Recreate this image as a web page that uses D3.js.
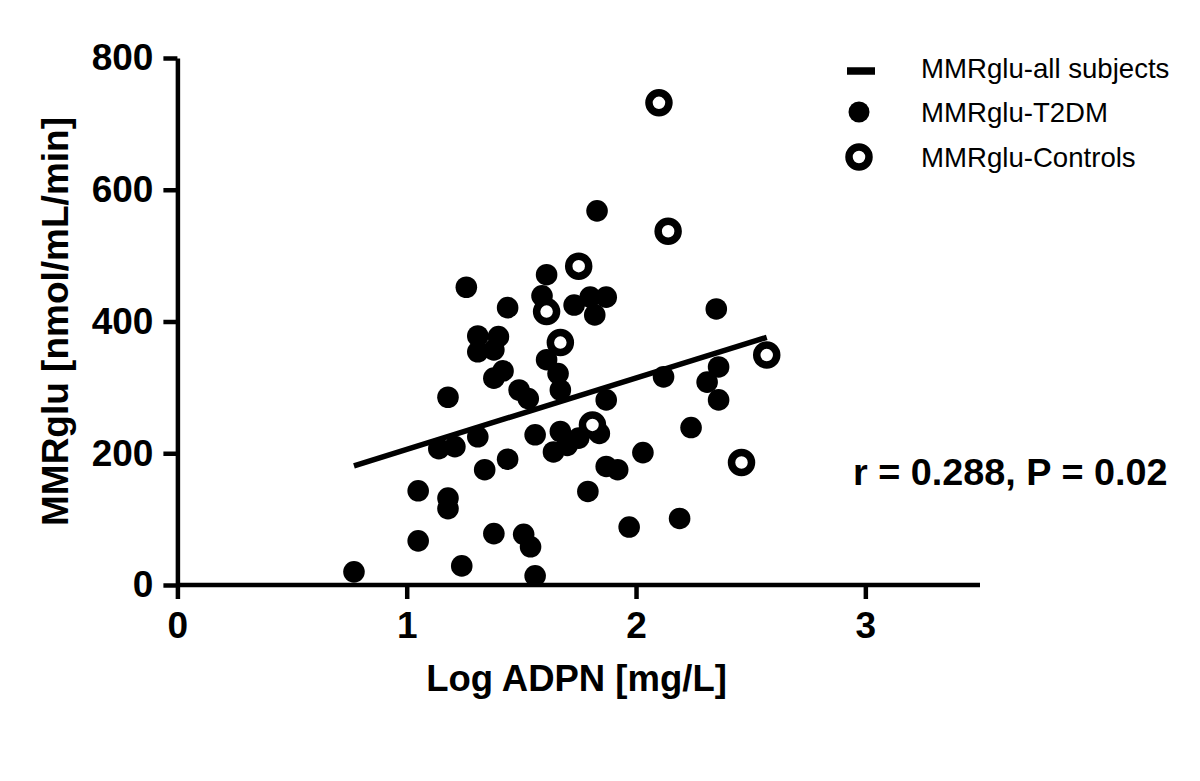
<!DOCTYPE html>
<html>
<head>
<meta charset="utf-8">
<script src="https://cdn.jsdelivr.net/npm/d3@7"></script>
<style>
  html, body { margin: 0; padding: 0; background: #fff; }
  svg { display: block; }
  text { font-family: "Liberation Sans", Arial, sans-serif; fill: #000; }
</style>
</head>
<body>
<svg id="chart" width="1200" height="781"></svg>
<script>
// ---- data ----
const t2dmX = [0.77, 1.05, 1.05, 1.18, 1.14, 1.21, 1.18, 1.18, 1.24, 1.26,
               1.31, 1.40, 1.31, 1.38, 1.42, 1.38, 1.44, 1.31, 1.34, 1.44,
               1.38, 1.49, 1.53, 1.51, 1.54, 1.56, 1.56, 1.61, 1.59, 1.61,
               1.66, 1.67, 1.64, 1.67, 1.70, 1.75, 1.73, 1.80, 1.87, 1.82,
               1.83, 1.84, 1.87, 1.79, 1.87, 1.92, 1.97, 2.03, 2.12, 2.19,
               2.24, 2.31, 2.35, 2.36, 2.36];
const t2dmY = [20, 143, 67, 285, 207, 210, 132, 116, 29, 452,
               378, 377, 354, 357, 325, 314, 421, 225, 175, 191,
               78, 296, 283, 77, 58, 14, 228, 471, 439, 342,
               321, 296, 202, 233, 212, 223, 425, 437, 437, 410,
               568, 230, 281, 142, 180, 175, 88, 201, 316, 101,
               239, 308, 419, 331, 281];
const ctrlX = [2.10, 2.14, 1.75, 1.61, 1.67, 2.57, 1.81, 2.46];
const ctrlY = [732, 537, 484, 415, 368, 349, 243, 186];
const fitX = [0.77, 2.57];
const fitY = [181, 376];
const xTicks = [0, 1, 2, 3];
const yTicks = [0, 200, 400, 600, 800];
const legendLabels = ["MMRglu-all subjects", "MMRglu-T2DM", "MMRglu-Controls"];
const xTitle = "Log ADPN [mg/L]";
const yTitle = "MMRglu [nmol/mL/min]";
const statText = "r = 0.288, P = 0.02";

// ---- drawing ----
const svg = d3.select("#chart");
const x = d3.scaleLinear().domain([0, 3.5]).range([177.4, 980]);
const y = d3.scaleLinear().domain([0, 800]).range([585, 58]);

const axisStroke = 4.5;

// regression line
svg.append("path")
  .datum(fitX.map((v, i) => [v, fitY[i]]))
  .attr("d", d3.line().x(d => x(d[0])).y(d => y(d[1])))
  .attr("stroke", "#000").attr("stroke-width", 5.5).attr("fill", "none");

// T2DM filled points
svg.append("g").selectAll("circle")
  .data(t2dmX.map((v, i) => [v, t2dmY[i]]))
  .join("circle")
  .attr("cx", d => x(d[0])).attr("cy", d => y(d[1]))
  .attr("r", 10.8).attr("fill", "#000");

// Controls open points
svg.append("g").selectAll("circle")
  .data(ctrlX.map((v, i) => [v, ctrlY[i]]))
  .join("circle")
  .attr("cx", d => x(d[0])).attr("cy", d => y(d[1]))
  .attr("r", 10).attr("fill", "#fff")
  .attr("stroke", "#000").attr("stroke-width", 7.5);

// axes
const xAxis = svg.append("g")
  .attr("transform", `translate(0,${y(0)})`)
  .call(d3.axisBottom(x).tickValues(xTicks).tickFormat(d3.format("d"))
        .tickSize(14).tickSizeOuter(0).tickPadding(13));
const yAxis = svg.append("g")
  .attr("transform", `translate(${x(0)},0)`)
  .call(d3.axisLeft(y).tickValues(yTicks).tickFormat(d3.format("d"))
        .tickSize(14).tickSizeOuter(0).tickPadding(10));

[xAxis, yAxis].forEach(g => {
  g.select(".domain").attr("stroke", "#000").attr("stroke-width", axisStroke);
  g.selectAll(".tick line").attr("stroke", "#000").attr("stroke-width", axisStroke);
  g.selectAll(".tick text")
    .attr("fill", "#000")
    .style("font-family", '"Liberation Sans", Arial, sans-serif')
    .style("font-weight", "bold")
    .style("font-size", "37px");
});
// extend x-axis line to the y-axis
xAxis.select(".domain").attr("d", `M${x(0)},0H${x(3.5)}`);

// axis titles
svg.append("text")
  .attr("x", 576.5).attr("y", 691)
  .attr("text-anchor", "middle")
  .style("font-weight", "bold").style("font-size", "36.5px")
  .text(xTitle);

svg.append("text")
  .attr("transform", `translate(68,${(y(0) + y(800)) / 2}) rotate(-90)`)
  .attr("text-anchor", "middle")
  .style("font-weight", "bold").style("font-size", "37px")
  .text(yTitle);

// statistic annotation
svg.append("text")
  .attr("x", 853).attr("y", 485)
  .style("font-weight", "bold").style("font-size", "37.8px")
  .text(statText);

// legend
const lg = svg.append("g");
const rowsY = [68, 112, 157];
lg.append("line")
  .attr("x1", 847).attr("x2", 875).attr("y1", rowsY[0] + 3).attr("y2", rowsY[0] + 3)
  .attr("stroke", "#000").attr("stroke-width", 7.5);
lg.append("circle").attr("cx", 859).attr("cy", rowsY[1]).attr("r", 10.5).attr("fill", "#000");
lg.append("circle").attr("cx", 859).attr("cy", rowsY[2]).attr("r", 10)
  .attr("fill", "#fff").attr("stroke", "#000").attr("stroke-width", 7.5);
lg.selectAll("text.leg")
  .data(legendLabels)
  .join("text")
  .attr("class", "leg")
  .attr("x", 921)
  .attr("y", (d, i) => rowsY[i] + 9.5)
  .style("font-size", "27.6px")
  .text(d => d);
</script>
</body>
</html>
